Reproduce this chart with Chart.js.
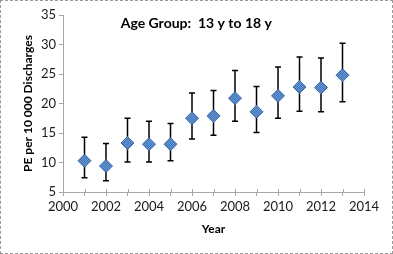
<!DOCTYPE html>
<html>
<head>
<meta charset="utf-8">
<script src="https://cdn.jsdelivr.net/npm/chart.js@4/dist/chart.umd.min.js"></script>
<style>
    body { margin: 0; background: #fff; }
    .wrap { width: 393px; height: 254px; box-sizing: border-box; border: 1px dashed #9a9a9a; }
    canvas { display: block; }
</style>
</head>
<body>
<div class="wrap"><canvas id="peChart" width="391" height="252"></canvas></div>
<script>
// data
const years = [2001, 2002, 2003, 2004, 2005, 2006, 2007, 2008, 2009, 2010, 2011, 2012, 2013];
const peRate = [10.3, 9.4, 13.3, 13.1, 13.1, 17.5, 17.9, 20.9, 18.6, 21.3, 22.8, 22.7, 24.8];
const ciLower = [7.4, 6.9, 10.1, 10.1, 10.3, 14.0, 14.6, 17.0, 15.1, 17.5, 18.7, 18.6, 20.3];
const ciUpper = [14.3, 13.2, 17.5, 17.0, 16.6, 21.8, 22.2, 25.6, 22.9, 26.2, 27.9, 27.7, 30.2];
const chartTitle = 'Age Group:  13 y to 18 y';

const FONT = 'Lato, "Open Sans", sans-serif';
const AXIS_GRAY = '#a6a6a6';

// little checker pattern like the excel marker fill
function markerFill(ctx) {
    const c = document.createElement('canvas');
    c.width = 2; c.height = 2;
    const p = c.getContext('2d');
    p.fillStyle = '#3f73b5';
    p.fillRect(0, 0, 2, 2);
    p.fillStyle = '#6a9ad6';
    p.fillRect(0, 0, 1, 1);
    p.fillRect(1, 1, 1, 1);
    return ctx.createPattern(c, 'repeat');
}

const errorBarPlugin = {
    id: 'errorBars',
    beforeDatasetsDraw(chart) {
        const { ctx, scales: { x, y } } = chart;
        ctx.save();
        ctx.strokeStyle = '#000';
        ctx.lineWidth = 1.5;
        years.forEach((yr, i) => {
            const px = x.getPixelForValue(yr);
            const top = y.getPixelForValue(ciUpper[i]);
            const bot = y.getPixelForValue(ciLower[i]);
            ctx.beginPath();
            ctx.moveTo(px, top); ctx.lineTo(px, bot);
            ctx.moveTo(px - 3, top); ctx.lineTo(px + 3, top);
            ctx.moveTo(px - 3, bot); ctx.lineTo(px + 3, bot);
            ctx.stroke();
        });
        ctx.restore();
    }
};

// title sits inside plot area, and x ticks cross the axis
const overlayPlugin = {
    id: 'overlay',
    afterDraw(chart) {
        const { ctx, chartArea, scales: { x } } = chart;
        ctx.save();
        ctx.strokeStyle = AXIS_GRAY;
        ctx.lineWidth = 1;
        x.ticks.forEach(t => {
            const px = Math.round(x.getPixelForValue(t.value)) + 0.5;
            ctx.beginPath();
            ctx.moveTo(px, chartArea.bottom - 3);
            ctx.lineTo(px, chartArea.bottom);
            ctx.stroke();
        });
        ctx.fillStyle = '#000';
        ctx.font = 'bold 14px ' + FONT;
        ctx.textAlign = 'center';
        ctx.textBaseline = 'middle';
        ctx.fillText(chartTitle, chartArea.left + chartArea.width * 0.443, chartArea.top + 8);
        ctx.restore();
    }
};

const canvas = document.getElementById('peChart');
const ctx = canvas.getContext('2d');

new Chart(ctx, {
    type: 'scatter',
    data: {
        datasets: [{
            label: 'PE',
            data: years.map((yr, i) => ({ x: yr, y: peRate[i] })),
            pointStyle: 'rectRot',
            pointRadius: 6.5,
            pointHoverRadius: 6.5,
            backgroundColor: markerFill(ctx),
            borderColor: '#3a6aa8',
            borderWidth: 1
        }]
    },
    options: {
        responsive: false,
        animation: false,
        layout: { padding: { top: 14, right: 28, bottom: 0, left: 0 } },
        plugins: {
            legend: { display: false },
            tooltip: { enabled: false }
        },
        scales: {
            x: {
                type: 'linear',
                min: 2000,
                max: 2014,
                afterFit: s => { s.height = 61; },
                ticks: {
                    stepSize: 1,
                    autoSkip: false,
                    maxRotation: 0,
                    padding: 3,
                    color: '#1a1a1a',
                    font: { family: FONT, size: 13 },
                    callback: v => (v % 2 === 0 ? String(v) : '')
                },
                grid: {
                    drawOnChartArea: false,
                    drawTicks: true,
                    tickLength: 4,
                    color: AXIS_GRAY
                },
                border: { color: AXIS_GRAY },
                title: {
                    display: true,
                    text: 'Year',
                    color: '#000',
                    font: { family: FONT, size: 12, weight: 'bold' },
                    padding: { top: 0, bottom: 17 }
                }
            },
            y: {
                min: 5,
                max: 35,
                afterFit: s => { s.width = 62; },
                ticks: {
                    stepSize: 5,
                    padding: 3,
                    color: '#1a1a1a',
                    font: { family: FONT, size: 13 }
                },
                grid: {
                    drawOnChartArea: false,
                    drawTicks: true,
                    tickLength: 4,
                    color: AXIS_GRAY
                },
                border: { color: AXIS_GRAY },
                title: {
                    display: true,
                    text: 'PE per 10 000 Discharges',
                    color: '#000',
                    font: { family: FONT, size: 12, weight: 'bold' },
                    padding: { top: 20, bottom: 0 }
                }
            }
        }
    },
    plugins: [errorBarPlugin, overlayPlugin]
});
</script>
</body>
</html>
